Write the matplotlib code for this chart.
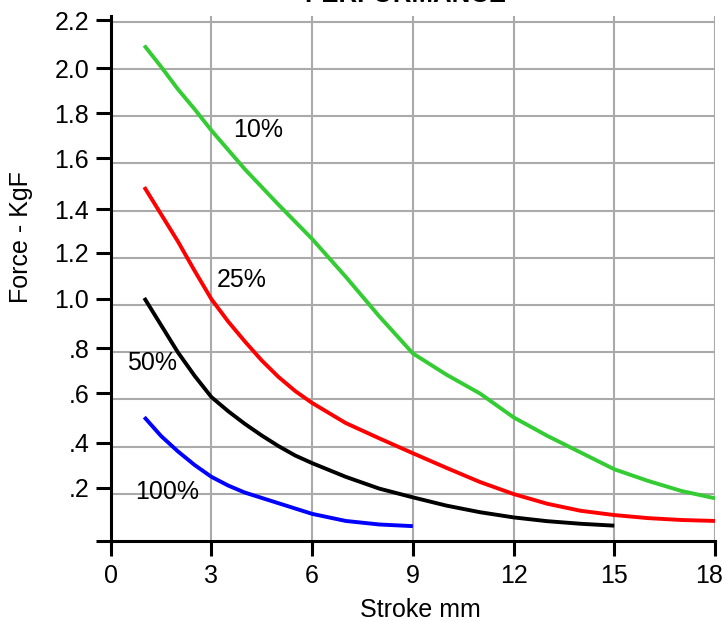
import numpy as np
import matplotlib
matplotlib.use('Agg')
import matplotlib.pyplot as plt
from matplotlib.transforms import ScaledTranslation

plt.rcParams['font.family'] = ['Liberation Sans', 'DejaVu Sans']

# curves (stroke mm -> force KgF)
x_10 = [1, 1.5, 2, 2.5, 3, 4, 5, 6, 7, 8, 9, 10, 11, 12, 13, 14, 15, 16, 17, 18]
f_10 = [2.10, 2.01, 1.915, 1.83, 1.74, 1.575, 1.425, 1.28, 1.12, 0.952, 0.795,
        0.705, 0.625, 0.524, 0.446, 0.375, 0.304, 0.255, 0.212, 0.181]

x_25 = [1, 1.5, 2, 2.5, 3, 3.5, 4, 4.5, 5, 5.5, 6, 7, 8, 9, 10, 11, 12, 13,
        14, 15, 16, 17, 18]
f_25 = [1.50, 1.385, 1.27, 1.145, 1.025, 0.93, 0.845, 0.765, 0.695, 0.635,
        0.585, 0.50, 0.435, 0.372, 0.31, 0.25, 0.199, 0.158, 0.128, 0.110,
        0.097, 0.089, 0.085]

x_50 = [1, 1.5, 2, 2.5, 3, 3.5, 4, 4.5, 5, 5.5, 6, 7, 8, 9, 10, 11, 12, 13,
        14, 15]
f_50 = [1.03, 0.915, 0.80, 0.70, 0.61, 0.55, 0.496, 0.447, 0.402, 0.362,
        0.33, 0.272, 0.222, 0.185, 0.15, 0.122, 0.10, 0.084, 0.073, 0.065]

x_100 = [1, 1.5, 2, 2.5, 3, 3.5, 4, 5, 6, 7, 8, 9]
f_100 = [0.525, 0.445, 0.38, 0.322, 0.272, 0.235, 0.205, 0.16, 0.115, 0.085,
         0.07, 0.063]

x_ticks = [0, 3, 6, 9, 12, 15, 18]
y_labels = ['', '.2', '.4', '.6', '.8', '1.0', '1.2', '1.4', '1.6', '1.8', '2.0', '2.2']
# the tick marks sit a little off the grid in the original
y_tick_pos = [0, 0.226, 0.417, 0.626, 0.817, 1.027, 1.222, 1.406, 1.622, 1.812, 2.003, 2.208]
y_grid = np.arange(0.2, 2.21, 0.2)

fig = plt.figure(figsize=(7.24, 6.21), dpi=100)
ax = fig.add_axes([110.7 / 724, 80 / 621, 604.3 / 724, 525 / 621])

ax.set_xlim(0, 18)
ax.set_ylim(0, 2.225)

lw = 2.8
ax.plot(x_10, f_10, color='#33cc33', lw=lw, solid_capstyle='butt', zorder=3)
ax.plot(x_25, f_25, color='#ff0000', lw=lw, solid_capstyle='butt', zorder=3)
ax.plot(x_50, f_50, color='#000000', lw=lw, solid_capstyle='butt', zorder=3)
ax.plot(x_100, f_100, color='#0000ff', lw=lw, solid_capstyle='butt', zorder=3)

ax.text(4.39, 1.742, '10%', fontsize=18, ha='center', va='center')
ax.text(3.90, 1.106, '25%', fontsize=18, ha='center', va='center')
ax.text(1.22, 0.753, '50%', fontsize=18, ha='center', va='center')
ax.text(1.67, 0.209, '100%', fontsize=18, ha='center', va='center')

# grid
ax.set_xticks(x_ticks)
ax.set_xticklabels([str(v) for v in x_ticks])
ax.set_yticks(y_tick_pos)
ax.set_yticklabels(y_labels)
ax.set_yticks(y_grid, minor=True)
ax.grid(False)
ax.grid(True, axis='x', which='major', color='#aaaaaa', lw=1.5)
ax.grid(True, axis='y', which='minor', color='#aaaaaa', lw=1.5)
ax.set_axisbelow(True)

for s in ['top', 'right']:
    ax.spines[s].set_visible(False)
for s in ['left', 'bottom']:
    ax.spines[s].set_linewidth(2.2)
    ax.spines[s].set_zorder(4)

ax.tick_params(axis='both', which='major', direction='out', length=10.5,
               width=2.2, labelsize=18, pad=5)
ax.tick_params(axis='y', which='minor', length=0)
ax.tick_params(axis='x', pad=6)

# last x label is nudged left so it stays inside the picture
last = ax.get_xticklabels()[-1]
last.set_transform(last.get_transform() + ScaledTranslation(-6 / 100, 0, fig.dpi_scale_trans))

ax.set_xlabel('Stroke mm', fontsize=18)
ax.xaxis.set_label_coords((420 - 110.7) / 604.3, (541 - 610) / 525)
ax.xaxis.label.set_va('center')

fig.text(21 / 724, 1 - 237.5 / 621, 'Force - KgF', fontsize=18,
         rotation=90, ha='center', va='center')

fig.text(405 / 724, 1 - 2 / 621, 'PERFORMANCE', fontsize=18.5,
         fontweight='bold', ha='center', va='baseline')

fig.savefig('out.png', dpi=100)
